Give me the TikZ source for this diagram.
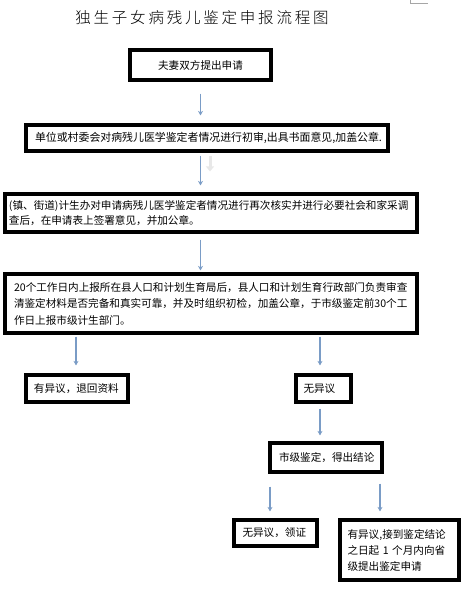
\documentclass[tikz,border=0pt]{standalone}
\usepackage{fontspec}
\setmainfont{Noto Sans CJK SC}
\newfontfamily\titlefont[LetterSpace=18]{Noto Sans CJK SC Light}
\usetikzlibrary{arrows.meta}
\definecolor{arrowblue}{HTML}{7A9CC6}
\tikzset{
  box/.style={draw=black, line width=3.2pt, rectangle, inner xsep=0pt, inner ysep=0pt, font=\fontsize{10.6}{15.5}\selectfont, align=left},
  flow/.style={draw=arrowblue, line width=1.2pt, -{Stealth[length=4.5pt,width=5pt]}},
  ghost/.style={draw=black!9, line width=3pt, -{Triangle[length=5pt,width=8pt]}}
}
\begin{document}
\begin{tikzpicture}[x=1pt,y=-1pt]
\useasboundingbox (0,0) rectangle (461,600);
\fill[white] (0,0) rectangle (461,600);
% corner mark
\draw[black!35, line width=0.8pt] (410,0) -- (410,3.5) -- (428,3.5);
% title
\node (title) at (202,18) {\titlefont\fontsize{15.5}{18}\selectfont 独生子女病残儿鉴定申报流程图};
% boxes
\node[box, minimum width=141pt, minimum height=30pt, align=center] (b1) at (200.5,65) {夫妻双方提出申请};
\node[box, minimum width=362pt, minimum height=26pt, text width=344pt, font=\fontsize{10.9}{15.5}\selectfont] (b2) at (207,138) {单位或村委会对病残儿医学鉴定者情况进行初审,出具书面意见,加盖公章.};
\node[box, minimum width=412pt, minimum height=38pt, text width=404pt, font=\fontsize{10.6}{14.5}\selectfont] (b3) at (211,213) {(镇、街道)计生办对申请病残儿医学鉴定者情况进行再次核实并进行必要社会和家采调\\查后，在申请表上签署意见，并加公章。};
\node[box, minimum width=412pt, minimum height=59pt, text width=394pt, font=\fontsize{10.6}{16.5}\selectfont] (b4) at (211,303.5) {20个工作日内上报所在县人口和计划生育局后，县人口和计划生育行政部门负责审查\\清鉴定材料是否完备和真实可靠，并及时组织初检，加盖公章，于市级鉴定前30个工\\作日上报市级计生部门。};
\node[box, minimum width=102pt, minimum height=27pt, text width=86pt] (b5) at (77,388.5) {有异议，退回资料};
\node[box, minimum width=55pt, minimum height=27pt, text width=40pt] (b6) at (323.5,388.5) {无异议};
\node[box, minimum width=112pt, minimum height=29pt, text width=94pt] (b7) at (326,457.5) {市级鉴定，得出结论};
\node[box, minimum width=83pt, minimum height=26pt, text width=66pt] (b8) at (275.5,533) {无异议，领证};
\node[box, minimum width=119pt, minimum height=60pt, text width=104pt, font=\fontsize{10.6}{16}\selectfont] (b9) at (399.5,550) {有异议,接到鉴定结论\\之日起 1 个月内向省\\级提出鉴定申请};
% connectors
\draw[flow, shorten <=12pt, shorten >=8pt] (b1.south) -- (b1.south |- b2.north);
\draw[ghost, shorten <=3pt, shorten >=21pt] ([xshift=9.5pt]b1.south |- b2.south) -- ([xshift=9.5pt]b1.south |- b3.north);
\draw[flow, shorten <=3pt, shorten >=7pt] (b1.south |- b2.south) -- (b1.south |- b3.north);
\draw[flow, shorten <=6pt, shorten >=2pt] (b1.south |- b3.south) -- (b1.south |- b4.north);
\draw[flow, shorten <=2pt, shorten >=8pt] ([xshift=-1pt]b5.north |- b4.south) -- ([xshift=-1pt]b5.north);
\draw[flow, shorten <=2pt, shorten >=8pt] ([xshift=-3.5pt]b6.north |- b4.south) -- ([xshift=-3.5pt]b6.north);
\draw[flow, shorten <=5pt, shorten >=6pt] ([xshift=-3.5pt]b6.south) -- ([xshift=-3.5pt]b6.south |- b7.north);
\draw[flow, shorten <=13pt, shorten >=7pt] ([xshift=-5.5pt]b8.north |- b7.south) -- ([xshift=-5.5pt]b8.north);
\draw[flow, shorten <=10pt, shorten >=7pt] ([xshift=-19.5pt]b9.north |- b7.south) -- ([xshift=-19.5pt]b9.north);
\end{tikzpicture}
\end{document}
